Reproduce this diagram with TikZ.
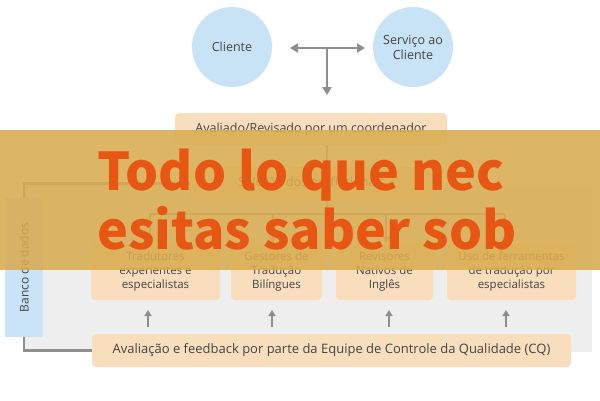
\documentclass[tikz,border=0pt]{standalone}
\usepackage{fontspec}
\setmainfont{Open Sans}
\newfontfamily\bigfont{Noto Sans CJK SC}
\usetikzlibrary{arrows.meta}
\definecolor{txt}{HTML}{444444}
\definecolor{circblue}{HTML}{C8E3F6}
\definecolor{boxor}{HTML}{F9DEBE}
\definecolor{bancoblue}{HTML}{C9E4F8}
\definecolor{arrgray}{HTML}{8E8E8E}
\definecolor{panelgray}{HTML}{EEEEEE}
\definecolor{bandcol}{RGB}{217,172,80}
\definecolor{bigred}{RGB}{232,86,20}
\tikzset{
  circ/.style={circle, fill=circblue, minimum size=80pt, inner sep=0pt, text=txt, align=center, font=\fontsize{12.5}{15}\selectfont},
  obox/.style={rectangle, rounded corners=4pt, fill=boxor, inner sep=0pt, text=txt, align=center, font=\fontsize{11.5}{14}\selectfont},
  conn/.style={draw=arrgray, line width=1.6pt},
  arr/.style={draw=arrgray, line width=2.6pt, -{Triangle[length=8pt,width=9pt]}},
  darr/.style={draw=arrgray, line width=2.6pt, {Triangle[length=8pt,width=9pt]}-{Triangle[length=8pt,width=9pt]}},
  sarr/.style={draw=arrgray, line width=2.2pt, -{Triangle[length=6pt,width=7pt]}},
  loopline/.style={draw=arrgray, line width=2.2pt},
  bigtxt/.style={text=bigred, inner sep=0pt, anchor=base west, font=\bigfont\bfseries\fontsize{52}{60}\selectfont}
}
\begin{document}
\begin{tikzpicture}[x=1pt,y=-1pt]
\useasboundingbox (0,0) rectangle (600,400);
\fill[white] (0,0) rectangle (600,400);
% panel
\fill[panelgray] (24,185) rectangle (592,352);
% top circles
\node[circ] (cli) at (232,47) {Cliente};
\node[circ] (serv) at (413,47) {Serviço ao\\Cliente};
\coordinate (hl) at (290,48);
\coordinate (hr) at (365,48);
\coordinate (hm) at (327,48);
\coordinate (hd) at (327,95);
\draw[darr] (hl) -- (hr);
\draw[arr] (hm) -- (hd);
% coordinator
\node[obox, minimum width=272pt, minimum height=32pt, font=\fontsize{12.5}{15}\selectfont] (coord) at (311,129) {Avaliado/Revisado por um coordenador};
\node[obox, minimum width=243pt, minimum height=33pt, font=\fontsize{12.5}{15}\selectfont] (sel) at (311.5,183.5) {Seleção dos profissionais};
\draw[sarr] (coord.south -| hm) -- (sel.north -| hm);
% branch
\coordinate (br) at (327,214);
\coordinate (b1) at (150,214);
\coordinate (b2) at (273,214);
\coordinate (b3) at (386,214);
\coordinate (b4) at (505,214);
\draw[conn] (sel.south -| br) -- (br);
\draw[conn] (b1) -- (b4);
% four boxes
\node[obox, minimum width=129pt, minimum height=57pt] (t1) at (155.5,271.5) {Tradutores\\experientes e\\especialistas};
\node[obox, minimum width=91pt, minimum height=57pt] (t2) at (276.5,271.5) {Gestores de\\Tradução\\Bilíngues};
\node[obox, minimum width=97pt, minimum height=57pt] (t3) at (384.5,271.5) {Revisores\\Nativos de\\Inglês};
\node[obox, minimum width=129pt, minimum height=57pt] (t4) at (511.5,271.5) {Uso de ferramentas\\de tradução por\\especialistas};
\draw[sarr] (b1) -- (t1.north -| b1);
\draw[sarr] (b2) -- (t2.north -| b2);
\draw[sarr] (b3) -- (t3.north -| b3);
\draw[sarr] (b4) -- (t4.north -| b4);
% CQ box
\node[obox, minimum width=479pt, minimum height=33pt, font=\fontsize{13}{15}\selectfont] (cq) at (331.5,350.5) {Avaliação e feedback por parte da Equipe de Controle da Qualidade (CQ)};
% up arrows
\coordinate (u1) at (148,310);
\coordinate (u2) at (272,310);
\coordinate (u3) at (389,310);
\coordinate (u4) at (506,310);
\draw[sarr, shorten <=7pt] (cq.north -| u1) -- (u1);
\draw[sarr, shorten <=7pt] (cq.north -| u2) -- (u2);
\draw[sarr, shorten <=7pt] (cq.north -| u3) -- (u3);
\draw[sarr, shorten <=7pt] (cq.north -| u4) -- (u4);
% loop line
\coordinate (lp1) at (24,183.5);
\coordinate (lp2) at (24,350.5);
\draw[loopline] (sel.west) -- (lp1) -- (lp2) -- (cq.west);
% banco
\node[rectangle, fill=bancoblue, rotate=90, minimum width=139pt, minimum height=38pt, inner sep=0pt, text=txt, font=\fontsize{12}{14}\selectfont] (banco) at (24,267.5) {Banco de dados};
% overlay band
\fill[bandcol, opacity=0.88] (0,130) rectangle (600,270);
\node[bigtxt] (big1) at (97,190) {Todo lo que nec};
\node[bigtxt] (big2) at (97,249) {esitas saber sob};
\end{tikzpicture}
\end{document}
